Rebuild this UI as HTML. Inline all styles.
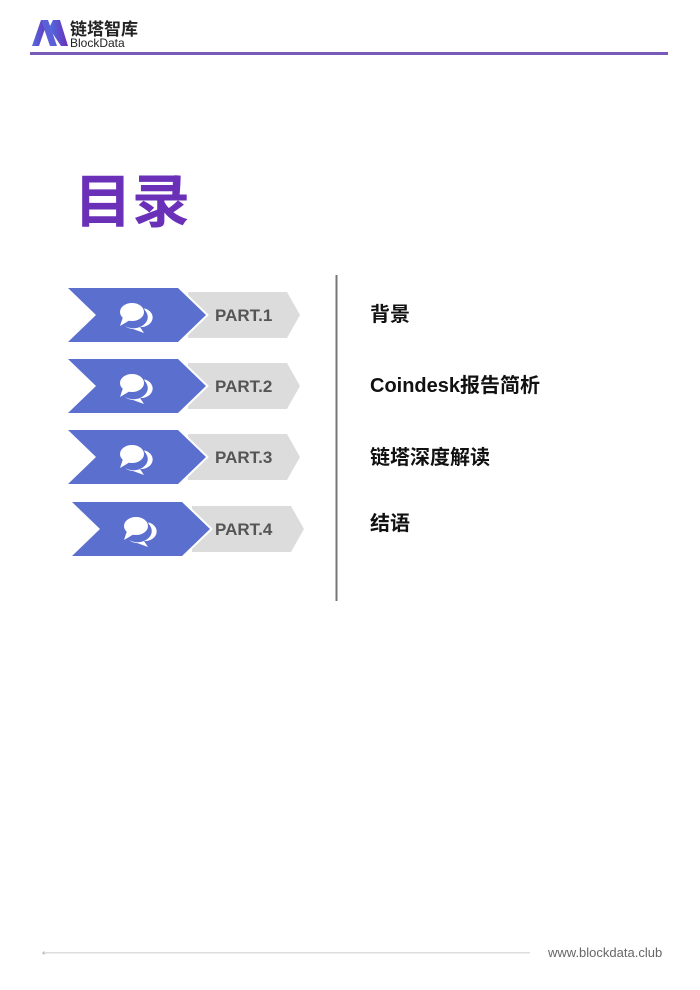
<!DOCTYPE html>
<html><head><meta charset="utf-8"><style>
body{margin:0;background:#fff}
svg{display:block}
</style></head><body>
<svg width="700" height="990" viewBox="0 0 700 990" xmlns="http://www.w3.org/2000/svg">
<defs>
<linearGradient id="lg" x1="0" x2="1"><stop offset="0" stop-color="#4f6ee0"/><stop offset="1" stop-color="#6b2fb8"/></linearGradient>
<g id="row">
<polygon points="120,4 219,4 232,27 219,50 120,50" fill="#dcdcdc"/>
<polygon points="0,0 110,0 138,27 110,54 0,54 28,27" fill="#fff" stroke="#fff" stroke-width="4"/>
<polygon points="0,0 110,0 138,27 110,54 0,54 28,27" fill="#5b6fcf"/>
<g fill="#fff">
<path d="M74,20 a11,9 0 0 1 -2,19 l4,6 l-11,-4 a12,9 0 0 1 -8,-3 a14,11 0 0 0 17,-18z"/>
<ellipse cx="64" cy="24" rx="13" ry="10" fill="#5b6fcf"/>
<ellipse cx="64" cy="24" rx="12" ry="9"/>
<polygon points="55,29 52,38 62,32"/>
</g>
</g>
</defs>
<!-- header -->
<polygon points="32,46 41,20 48,20 39,46" fill="url(#lg)"/>
<polygon points="41,20 48,20 57,46 50,46" fill="#5b5fd8"/>
<polygon points="49,28 53,20 60,20 68,46 61,46" fill="url(#lg)"/>
<text x="70" y="35" font-family="Liberation Sans,'Noto Sans CJK SC',sans-serif" font-size="17" font-weight="bold" fill="#222">链塔智库</text>
<text x="70" y="47" font-family="Liberation Sans,sans-serif" font-size="12" fill="#222">BlockData</text>
<rect x="30" y="52" width="638" height="3" fill="#7a5ab8"/>
<!-- title -->
<text x="74" y="222" font-family="Liberation Sans,'Noto Sans CJK SC',sans-serif" font-size="58" font-weight="bold" fill="#6a30b8">目录</text>
<!-- rows -->
<use href="#row" transform="translate(68,288)"/>
<use href="#row" transform="translate(68,359)"/>
<use href="#row" transform="translate(68,430)"/>
<use href="#row" transform="translate(72,502)"/>
<g font-family="Liberation Sans,sans-serif" font-size="17" font-weight="bold" fill="#555">
<text x="215" y="321">PART.1</text>
<text x="215" y="392">PART.2</text>
<text x="215" y="463">PART.3</text>
<text x="215" y="535">PART.4</text>
</g>
<rect x="335.5" y="275" width="2" height="326" fill="#777"/>
<g font-family="Liberation Sans,'Noto Sans CJK SC',sans-serif" font-size="20" font-weight="bold" fill="#111">
<text x="370" y="321">背景</text>
<text x="370" y="392">Coindesk报告简析</text>
<text x="370" y="464">链塔深度解读</text>
<text x="370" y="530">结语</text>
</g>
<!-- footer -->
<circle cx="44" cy="953" r="1.5" fill="#bbb"/>
<rect x="44" y="952" width="486" height="1.5" fill="#ddd"/>
<text x="548" y="957" font-family="Liberation Sans,sans-serif" font-size="13" fill="#666">www.blockdata.club</text>
</svg>
</body></html>
